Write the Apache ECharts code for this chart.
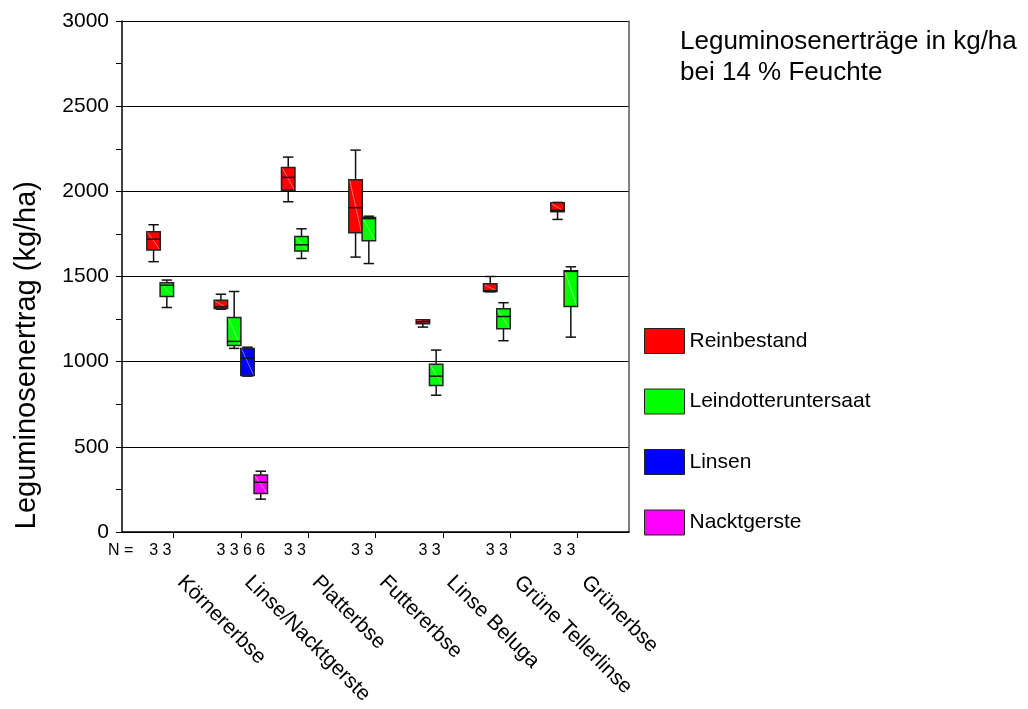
<!DOCTYPE html>
<html>
<head>
<meta charset="utf-8">
<script src="https://cdn.jsdelivr.net/npm/echarts@6/dist/echarts.min.js"></script>
<style>
  html, body { margin: 0; padding: 0; background: #fff; }
  #chart { width: 1028px; height: 709px; }
</style>
</head>
<body>
<div id="chart"></div>
<script>
// ---------- data ----------
const categories = ['Körnererbse', 'Linse/Nacktgerste', 'Platterbse', 'Futtererbse', 'Linse Beluga', 'Grüne Tellerlinse', 'Grünerbse'];
const seriesNames = ['Reinbestand', 'Leindotteruntersaat', 'Linsen', 'Nacktgerste'];

// [min, q1, median, q3, max] per category (kg/ha)
const reinbestand = [
  [1587, 1656, 1719, 1763, 1804],
  [1308, 1312, 1322, 1361, 1396],
  [1939, 2007, 2082, 2140, 2201],
  [1614, 1757, 1904, 2068, 2242],
  [1203, 1223, 1234, 1246, 1246],
  [1410, 1412, 1416, 1457, 1500],
  [1835, 1880, 1888, 1933, 1935]
];
const leindotteruntersaat = [
  [1318, 1383, 1449, 1463, 1479],
  [1078, 1095, 1119, 1260, 1412],
  [1606, 1649, 1686, 1735, 1780],
  [1576, 1710, 1840, 1846, 1854],
  [803, 860, 915, 985, 1068],
  [1123, 1193, 1265, 1311, 1346],
  [1144, 1324, 1530, 1534, 1557]
];
const linsen = [null, [915, 919, 1021, 1078, 1085], null, null, null, null, null];
const nacktgerste = [null, [193, 226, 292, 334, 357], null, null, null, null, null];

const nReinbestand = [3, 3, 3, 3, 3, 3, 3];
const nLeindotteruntersaat = [3, 3, 3, 3, 3, 3, 3];
const nLinsen = [null, 6, null, null, null, null, null];
const nNacktgerste = [null, 6, null, null, null, null, null];

const yTickValues = [0, 500, 1000, 1500, 2000, 2500, 3000];

// ---------- styling ----------
const FONT = "'Liberation Sans', Arial, Helvetica, sans-serif";
const colors = ['#ff0000', '#00ff00', '#0000ff', '#ff00ff'];
const slotOffsets = [-0.296, -0.099, 0.099, 0.296];
const BOX_W = 0.2;
const CAP_W = 0.155;

const allValues = [reinbestand, leindotteruntersaat, linsen, nacktgerste];
const allN = [nReinbestand, nLeindotteruntersaat, nLinsen, nNacktgerste];

function buildData(vals, ns) {
  const out = [];
  vals.forEach((v, i) => {
    if (v) out.push([i].concat(v).concat([ns[i]]));
  });
  return out;
}

function renderItem(params, api) {
  const s = params.seriesIndex;
  const cx = api.value(0) + slotOffsets[s];
  const pMin = api.coord([cx, api.value(1)]);
  const pQ1 = api.coord([cx, api.value(2)]);
  const pMed = api.coord([cx, api.value(3)]);
  const pQ3 = api.coord([cx, api.value(4)]);
  const pMax = api.coord([cx, api.value(5)]);
  const pZero = api.coord([cx, 0]);
  const hw = api.size([BOX_W, 0])[0] / 2;
  const cw = api.size([CAP_W, 0])[0] / 2;
  const x = pMin[0];
  const lineStyle = { stroke: '#111', lineWidth: 1.5 };
  return {
    type: 'group',
    children: [
      { type: 'line', shape: { x1: x, y1: pMax[1], x2: x, y2: pQ3[1] }, style: lineStyle },
      { type: 'line', shape: { x1: x, y1: pQ1[1], x2: x, y2: pMin[1] }, style: lineStyle },
      { type: 'line', shape: { x1: x - cw, y1: pMax[1], x2: x + cw, y2: pMax[1] }, style: lineStyle },
      { type: 'line', shape: { x1: x - cw, y1: pMin[1], x2: x + cw, y2: pMin[1] }, style: lineStyle },
      { type: 'rect', shape: { x: x - hw, y: pQ3[1], width: hw * 2, height: pQ1[1] - pQ3[1] },
        style: { fill: colors[s], stroke: '#222', lineWidth: 1.5 } },
      { type: 'line', shape: { x1: x - hw + 1, y1: pQ3[1] + 1, x2: x + hw - 1, y2: pQ1[1] - 1 },
        style: { stroke: 'rgba(255,255,255,0.45)', lineWidth: 1 } },
      { type: 'line', shape: { x1: x - hw, y1: pMed[1], x2: x + hw, y2: pMed[1] }, style: lineStyle },
      { type: 'text', x: x, y: pZero[1] + 19,
        style: { text: String(api.value(6)), fill: '#000', font: '16px ' + FONT, align: 'center', verticalAlign: 'middle' } }
    ]
  };
}

const series = seriesNames.map((name, s) => ({
  name: name,
  type: 'custom',
  clip: false,
  itemStyle: { color: colors[s] },
  renderItem: renderItem,
  encode: { x: 0, y: [1, 2, 3, 4, 5] },
  data: buildData(allValues[s], allN[s]),
  z: 5
}));

const chart = echarts.init(document.getElementById('chart'), null, { renderer: 'canvas' });
chart.setOption({
  animation: false,
  backgroundColor: '#fff',
  textStyle: { fontFamily: FONT, color: '#000' },
  grid: { left: 122, right: 399, top: 21, bottom: 177, containLabel: false },
  title: {
    text: 'Leguminosenerträge in kg/ha\nbei 14 % Feuchte',
    left: 680, top: 26, padding: 0,
    textStyle: { fontFamily: FONT, fontSize: 26, fontWeight: 'normal', color: '#000', lineHeight: 31 }
  },
  legend: {
    data: seriesNames.map(n => ({ name: n, icon: 'rect' })),
    orient: 'vertical',
    left: 644, top: 328,
    itemWidth: 40, itemHeight: 25, itemGap: 34.5,
    padding: 0,
    selectedMode: false,
    itemStyle: { borderColor: '#222', borderWidth: 1 },
    textStyle: { fontFamily: FONT, fontSize: 21, color: '#000' }
  },
  xAxis: {
    type: 'value',
    min: -0.765, max: 6.765,
    splitLine: { show: false },
    axisLine: { show: true, onZero: false, lineStyle: { color: '#000', width: 1.5 } },
    axisTick: { show: true, customValues: categories.map((c, i) => i), length: 6, lineStyle: { color: '#000', width: 1 } },
    axisLabel: {
      customValues: categories.map((c, i) => i),
      formatter: v => categories[Math.round(v)] || '',
      rotate: -45, margin: 40, padding: [0, 0, 0, 10],
      fontFamily: FONT, fontSize: 21, color: '#000'
    }
  },
  yAxis: [{
    type: 'value',
    min: 0, max: 3000, interval: 500,
    axisLine: { show: true, onZero: false, lineStyle: { color: '#000', width: 1.5 } },
    axisTick: { show: true, length: 6, lineStyle: { color: '#000', width: 1 } },
    minorTick: { show: true, splitNumber: 2, length: 6, lineStyle: { color: '#000', width: 1 } },
    splitLine: { show: true, lineStyle: { color: '#000', width: 1.2 } },
    axisLabel: { fontFamily: FONT, fontSize: 21, color: '#000', margin: 13, formatter: v => String(v) }
  }, {
    type: 'value', position: 'right',
    min: 0, max: 3000, interval: 500,
    axisLine: { show: true, onZero: false, lineStyle: { color: '#555', width: 1.5 } },
    axisTick: { show: false }, axisLabel: { show: false }, splitLine: { show: false }
  }],
  graphic: [
    {
      type: 'text', left: 12, top: 181, rotation: Math.PI / 2,
      style: { text: 'Leguminosenertrag (kg/ha)', font: '29px ' + FONT, fill: '#000' }
    },
    {
      type: 'text', left: 108, top: 543,
      style: { text: 'N =', font: '16px ' + FONT, fill: '#000' }
    }
  ],
  series: series
});
</script>
</body>
</html>
